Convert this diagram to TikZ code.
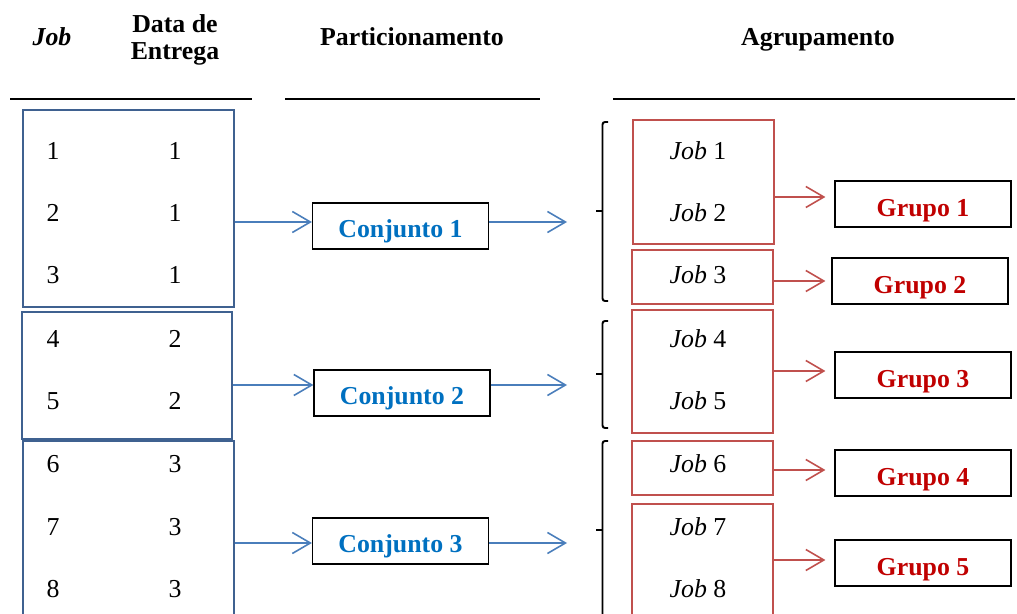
\documentclass[tikz,border=0pt]{standalone}
\usepackage{fontspec}
\setmainfont{Liberation Serif}
\usetikzlibrary{arrows.meta}
\definecolor{boxblue}{HTML}{3F6190}
\definecolor{arrblue}{HTML}{4A7EBB}
\definecolor{txtblue}{HTML}{0070C0}
\definecolor{boxred}{HTML}{C0504D}
\definecolor{txtred}{HTML}{C00000}
\tikzset{
  every node/.style={font=\fontsize{14.7}{17}\selectfont},
  hdr/.style={font=\fontsize{14.7}{15.5}\selectfont\bfseries, align=center, anchor=base},
  lbox/.style={draw=boxblue, line width=1.6pt, inner sep=0pt},
  cbox/.style={draw=black, line width=0.7pt, inner sep=0pt, minimum width=176*0.2mm, minimum height=46*0.2mm},
  ctext/.style={text=txtblue, font=\fontsize{14.7}{17}\selectfont\bfseries},
  rbox/.style={draw=boxred, line width=1.1pt, inner sep=0pt, minimum width=141*0.2mm},
  gbox/.style={draw=black, line width=0.7pt, inner sep=0pt, minimum width=176*0.2mm, minimum height=46*0.2mm},
  gtext/.style={text=txtred, font=\fontsize{14.7}{17}\selectfont\bfseries},
  barr/.style={draw=arrblue, line width=0.9pt, -{Straight Barb[length=3.6mm, width=4.2mm, line width=0.9pt]}},
  rarr/.style={draw=boxred, line width=0.9pt, -{Straight Barb[length=3.6mm, width=4.2mm, line width=0.9pt]}},
  brace/.style={draw=black, line width=1.1pt, rounded corners=0.5mm},
  hline/.style={draw=black, line width=1.1pt}
}
\begin{document}
\begin{tikzpicture}[x=0.02cm, y=-0.02cm]
\useasboundingbox (0,0) rectangle (1017,614);
\clip (0,0) rectangle (1017,614);
% headers
\node[hdr] (hjob) at (52,46) {\textit{Job}};
\node[hdr, anchor=north] (hdata) at (175,8) {Data de\\Entrega};
\node[hdr] (hpart) at (412,46) {Particionamento};
\node[hdr] (hagr) at (818,46) {Agrupamento};
\coordinate (l1a) at (10,99); \coordinate (l1b) at (252,99);
\coordinate (l2a) at (285,99); \coordinate (l2b) at (540,99);
\coordinate (l3a) at (613,99); \coordinate (l3b) at (1015,99);
\draw[hline] (l1a) -- (l1b);
\draw[hline] (l2a) -- (l2b);
\draw[hline] (l3a) -- (l3b);
% left boxes
\node[lbox, minimum width=211*0.2mm, minimum height=197*0.2mm] (b1) at (128.5,208.5) {};
\node[lbox, minimum width=210*0.2mm, minimum height=127*0.2mm] (b2) at (127,375.5) {};
\node[lbox, minimum width=211*0.2mm, minimum height=258*0.2mm] (b3) at (128.5,570) {};
% numbers
\foreach \i/\d/\y in {1/1/151,2/1/213,3/1/275,4/2/339,5/2/401,6/3/464,7/3/527,8/3/589}{
  \node (j\i) at (53,\y) {\i};
  \node (d\i) at (175,\y) {\d};
}
% conjuntos
\node[cbox] (c1) at (400.5,226) {};
\node[cbox] (c2) at (402,393) {};
\node[cbox] (c3) at (400.5,541) {};
\node[ctext] (c1t) at ([yshift=-1.1mm]c1.center) {Conjunto 1};
\node[ctext] (c2t) at ([yshift=-1.1mm]c2.center) {Conjunto 2};
\node[ctext] (c3t) at ([yshift=-1.1mm]c3.center) {Conjunto 3};
\draw[barr] (b1.east |- 0,222) -- (c1.west |- 0,222);
\draw[barr] (b2.east |- 0,385) -- (c2.west |- 0,385);
\draw[barr] (b3.east |- 0,543) -- (c3.west |- 0,543);
\coordinate (e1) at (567,222);
\coordinate (e2) at (567,385);
\coordinate (e3) at (567,543);
\draw[barr] (c1.east |- e1) -- (e1);
\draw[barr] (c2.east |- e2) -- (e2);
\draw[barr] (c3.east |- e3) -- (e3);
% braces
\draw[brace] (608,122) -- (602.5,122) -- (602.5,301) -- (608,301);
\draw[brace] (596,211) -- (602.5,211);
\draw[brace] (608,321) -- (602.5,321) -- (602.5,428) -- (608,428);
\draw[brace] (596,374) -- (602.5,374);
\draw[brace] (608,441) -- (602.5,441) -- (602.5,640);
\draw[brace] (596,530) -- (602.5,530);
% red boxes
\node[rbox, minimum height=124*0.2mm] (r1) at (703.5,182) {};
\node[rbox, minimum height=54*0.2mm] (r2) at (702.5,277) {};
\node[rbox, minimum height=123*0.2mm] (r3) at (702.5,371.5) {};
\node[rbox, minimum height=54*0.2mm] (r4) at (702.5,468) {};
\node[rbox, minimum height=196*0.2mm] (r5) at (702.5,602) {};
\foreach \i/\y in {1/151,2/213,3/275,4/339,5/401,6/464,7/527,8/589}{
  \node (k\i) at (698,\y) {\textit{Job} \i};
}
% grupos
\node[gbox] (g1) at (923,204) {};
\node[gbox] (g2) at (920,281) {};
\node[gbox] (g3) at (923,375) {};
\node[gbox] (g4) at (923,473) {};
\node[gbox] (g5) at (923,563) {};
\node[gtext] (g1t) at ([yshift=-1.3mm]g1.center) {Grupo 1};
\node[gtext] (g2t) at ([yshift=-1.3mm]g2.center) {Grupo 2};
\node[gtext] (g3t) at ([yshift=-1.3mm]g3.center) {Grupo 3};
\node[gtext] (g4t) at ([yshift=-1.3mm]g4.center) {Grupo 4};
\node[gtext] (g5t) at ([yshift=-1.3mm]g5.center) {Grupo 5};
\draw[rarr, shorten >=1.8mm] (r1.east |- 0,197) -- (g1.west |- 0,197);
\draw[rarr, shorten >=1.2mm] (r2.east |- 0,281) -- (g2.west |- 0,281);
\draw[rarr, shorten >=1.8mm] (r3.east |- 0,371) -- (g3.west |- 0,371);
\draw[rarr, shorten >=1.8mm] (r4.east |- 0,470) -- (g4.west |- 0,470);
\draw[rarr, shorten >=1.8mm] (r5.east |- 0,560) -- (g5.west |- 0,560);
\end{tikzpicture}
\end{document}
